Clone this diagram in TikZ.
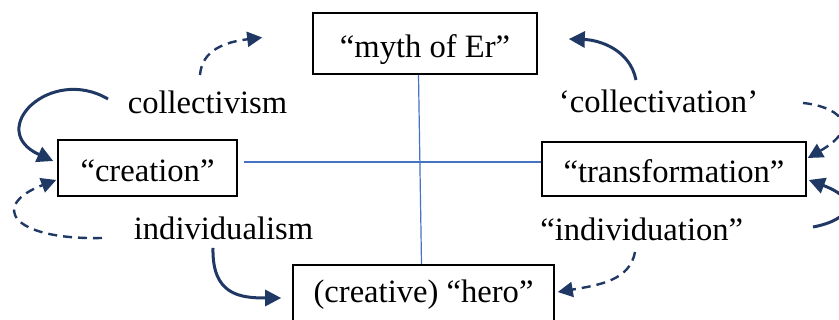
\documentclass[tikz,border=0pt]{standalone}
\usepackage{fontspec}
\setmainfont{Liberation Serif}
\usetikzlibrary{arrows.meta}
\definecolor{navy}{HTML}{1F3864}
\definecolor{axisblue}{HTML}{4472C4}
\begin{document}
\begin{tikzpicture}[x=1pt,y=-1pt,
  box/.style={draw=black,line width=1.6pt,inner sep=0pt,font=\fontsize{32.6}{38}\selectfont},
  lowtext/.style={text height=33pt,text depth=5pt},
  lbl/.style={inner sep=0pt,font=\fontsize{32.6}{38}\selectfont},
  axis/.style={draw=axisblue,line width=1.2pt},
  solidarr/.style={draw=navy,line width=3pt,-{Triangle[length=16pt,width=16pt]}},
  dasharr/.style={draw=navy,line width=2.4pt,dash pattern=on 9pt off 6pt,-{Triangle[length=15pt,width=15pt]}}]
\useasboundingbox (0,0) rectangle (839,320);
\clip (0,0) rectangle (839,320);
\fill[white] (0,0) rectangle (839,320);

\node[box,lowtext,minimum width=224pt,minimum height=61pt] (myth) at (425,43.5) {“myth of Er”};
\node[box,lowtext,minimum width=179pt,minimum height=56pt] (creation) at (147.5,168) {“creation”};
\node[box,lowtext,minimum width=264pt,minimum height=54pt] (transf) at (674,169) {“transformation”};
\node[box,minimum width=261pt,minimum height=60pt] (hero) at (423.5,295) {(creative) “hero”};

\node[lbl] (coll) at (207.5,102.5) {collectivism};
\node[lbl] (indiv) at (223.5,228) {individualism};
\node[lbl] (collv) at (658.5,101) {‘collectivation’};
\node[lbl] (indivn) at (641.7,229) {“individuation”};

% axes
\draw[axis] ([xshift=6pt,yshift=6pt]creation.east) -- ([yshift=7pt]transf.west);
\draw[axis] ([xshift=-6.5pt]myth.south) -- ([xshift=-2pt]hero.north);

% free ends
\coordinate (s1) at (108,99);
\coordinate (s2) at (102,238);
\coordinate (s3) at (200,75);
\coordinate (s4) at (213,248);
\coordinate (s5) at (636,80);
\coordinate (s6) at (803,103);
\coordinate (s7) at (813,227);
\coordinate (s8) at (635,252);

\draw[solidarr] (s1) .. controls (50,65) and (-15,130) .. ([xshift=-4pt,yshift=7pt]creation.west);
\draw[dasharr] (s2) .. controls (10,240) and (-10,205) .. ([xshift=-1pt,yshift=-12pt]creation.west);
\draw[dasharr] (s3) .. controls (202,50) and (225,42) .. ([xshift=-50pt,yshift=6pt]myth.west);
\draw[solidarr] (s4) .. controls (212,295) and (240,298) .. ([xshift=-11pt,yshift=-3pt]hero.west);
\draw[solidarr] (s5) .. controls (630,50) and (600,40) .. ([xshift=31pt,yshift=4.5pt]myth.east);
\draw[dasharr] (s6) .. controls (835,106) and (865,125) .. ([xshift=1pt,yshift=11pt]transf.east);
\draw[solidarr] (s7) .. controls (850,220) and (862,200) .. ([xshift=2pt,yshift=-11pt]transf.east);
\draw[dasharr] (s8) .. controls (630,280) and (600,285) .. ([xshift=3pt,yshift=3pt]hero.east);
\end{tikzpicture}
\end{document}
